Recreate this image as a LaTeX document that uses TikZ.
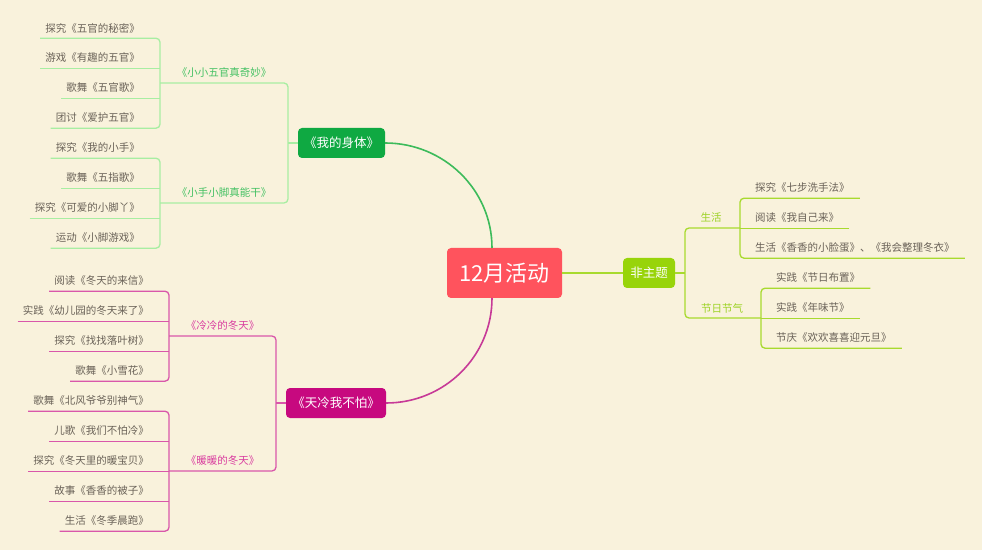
\documentclass[tikz,border=0pt]{standalone}
\usepackage{fontspec}
\setmainfont{Noto Sans CJK SC}
\definecolor{bg}{HTML}{F9F2DC}
\definecolor{leaftxt}{HTML}{6A6258}
\definecolor{cRed}{HTML}{FF535D}
\definecolor{cBody}{HTML}{0FA942}
\definecolor{cBodyLine}{HTML}{3DBB5B}
\definecolor{cBodyLeaf}{HTML}{A8EEA2}
\definecolor{cBodyTxt}{HTML}{44C163}
\definecolor{cCold}{HTML}{C7097F}
\definecolor{cColdLine}{HTML}{C73A97}
\definecolor{cColdLeaf}{HTML}{D957AA}
\definecolor{cColdTxt}{HTML}{D93C9F}
\definecolor{cNon}{HTML}{98D40A}
\definecolor{cNonLine}{HTML}{A8DA2E}
\definecolor{cNonTxt}{HTML}{9DD226}
\begin{document}
\begin{tikzpicture}[x=1bp,y=-1bp,
  every node/.style={font=\fontsize{10.5bp}{12bp}\selectfont},
  mainbox/.style={rounded corners=4bp, text=white, inner sep=0pt, font=\fontsize{12.5bp}{14bp}\selectfont},
  leafL/.style={text=leaftxt, inner xsep=5bp, inner ysep=0pt, minimum height=20bp, anchor=east},
  leafR/.style={text=leaftxt, inner xsep=10bp, inner ysep=0pt, minimum height=20bp, anchor=west},
  grp/.style={inner sep=0pt, minimum height=20bp},
  bl/.style={line width=1.3bp, rounded corners=4bp},
]
\fill[bg] (0,0) rectangle (982,550);
\useasboundingbox (0,0) rectangle (982,550);

% main nodes
\node[mainbox, fill=cRed, minimum width=115bp, minimum height=50bp, font=\fontsize{22bp}{24bp}\selectfont] (c) at (504.5,273) {12月活动};
\node[mainbox, fill=cBody, minimum width=87bp, minimum height=30bp] (body) at (341.5,143) {《我的身体》};
\node[mainbox, fill=cCold, minimum width=100bp, minimum height=30bp] (cold) at (336,403) {《天冷我不怕》};
\node[mainbox, fill=cNon, minimum width=52bp, minimum height=30bp] (non) at (649,273) {非主题};

% main connectors
\coordinate (ctop) at (492,248);
\coordinate (cbot) at (492,298);
\draw[cBodyLine, line width=1.6bp] (ctop) to[out=90,in=0] (body.east);
\draw[cColdLine, line width=1.6bp] (cbot) to[out=-90,in=0] (cold.east);
\draw[cNonLine, line width=1.6bp] (c.east) -- (non.west);

% ---------- body subtree ----------
\coordinate (kBody) at (288,143);
\coordinate (kA) at (160,83);
\coordinate (kB) at (160,203);
\node[grp, text=cBodyTxt] (gA) at (224,73) {《小小五官真奇妙》};
\node[grp, text=cBodyTxt] (gB) at (224,193) {《小手小脚真能干》};
\draw[cBodyLeaf, bl] (body.west) -- (kBody);
\draw[cBodyLeaf, bl] (kA) -- (kA -| kBody) -- (kB -| kBody) -- (kB);

\node[leafL] (a1) at (145,28) {探究《五官的秘密》};
\node[leafL] (a2) at (145,58) {游戏《有趣的五官》};
\node[leafL] (a3) at (145,88) {歌舞《五官歌》};
\node[leafL] (a4) at (145,118) {团讨《爱护五官》};
\draw[cBodyLeaf, bl] (a1.south west) -- (a1.south -| kA) -- (a4.south -| kA) -- (a4.south west);
\draw[cBodyLeaf, bl] (a2.south west) -- (a2.south -| kA);
\draw[cBodyLeaf, bl] (a3.south west) -- (a3.south -| kA);

\node[leafL] (b1) at (145,148) {探究《我的小手》};
\node[leafL] (b2) at (145,178) {歌舞《五指歌》};
\node[leafL] (b3) at (145,208) {探究《可爱的小脚丫》};
\node[leafL] (b4) at (145,238) {运动《小脚游戏》};
\draw[cBodyLeaf, bl] (b1.south west) -- (b1.south -| kB) -- (b4.south -| kB) -- (b4.south west);
\draw[cBodyLeaf, bl] (b2.south west) -- (b2.south -| kB);
\draw[cBodyLeaf, bl] (b3.south west) -- (b3.south -| kB);

% ---------- cold subtree ----------
\coordinate (kCold) at (276,403);
\coordinate (kC) at (169,336);
\coordinate (kD) at (169,471);
\node[grp, text=cColdTxt] (gC) at (222.5,326) {《冷冷的冬天》};
\node[grp, text=cColdTxt] (gD) at (222.5,461) {《暖暖的冬天》};
\draw[cColdLeaf, bl] (cold.west) -- (kCold);
\draw[cColdLeaf, bl] (kC) -- (kC -| kCold) -- (kD -| kCold) -- (kD);

\node[leafL] (d1) at (154,281) {阅读《冬天的来信》};
\node[leafL] (d2) at (154,311) {实践《幼儿园的冬天来了》};
\node[leafL] (d3) at (154,341) {探究《找找落叶树》};
\node[leafL] (d4) at (154,371) {歌舞《小雪花》};
\draw[cColdLeaf, bl] (d1.south west) -- (d1.south -| kC) -- (d4.south -| kC) -- (d4.south west);
\draw[cColdLeaf, bl] (d2.south west) -- (d2.south -| kC);
\draw[cColdLeaf, bl] (d3.south west) -- (d3.south -| kC);

\node[leafL] (e1) at (154,401) {歌舞《北风爷爷别神气》};
\node[leafL] (e2) at (154,431) {儿歌《我们不怕冷》};
\node[leafL] (e3) at (154,461) {探究《冬天里的暖宝贝》};
\node[leafL] (e4) at (154,491) {故事《香香的被子》};
\node[leafL] (e5) at (154,521) {生活《冬季晨跑》};
\draw[cColdLeaf, bl] (e1.south west) -- (e1.south -| kD) -- (e5.south -| kD) -- (e5.south west);
\draw[cColdLeaf, bl] (e2.south west) -- (e2.south -| kD);
\draw[cColdLeaf, bl] (e3.south west) -- (e3.south -| kD);
\draw[cColdLeaf, bl] (e4.south west) -- (e4.south -| kD);

% ---------- non-theme subtree ----------
\coordinate (kNon) at (685,273);
\coordinate (kE) at (740,228);
\coordinate (kF) at (761,318);
\node[grp, text=cNonTxt] (gE) at (711,218) {生活};
\node[grp, text=cNonTxt] (gF) at (722,308) {节日节气};
\draw[cNonLine, bl] (non.east) -- (kNon);
\draw[cNonLine, bl] (kE) -- (kE -| kNon) -- (kF -| kNon) -- (kF);

\node[leafR] (f1) at (745,188) {探究《七步洗手法》};
\node[leafR] (f2) at (745,218) {阅读《我自己来》};
\node[leafR] (f3) at (745,248) {生活《香香的小脸蛋》、《我会整理冬衣》};
\draw[cNonLine, bl] (f1.south east) -- (f1.south -| kE) -- (f3.south -| kE) -- (f3.south east);
\draw[cNonLine, bl] (f2.south east) -- (f2.south -| kE);

\node[leafR] (h1) at (766,278) {实践《节日布置》};
\node[leafR] (h2) at (766,308) {实践《年味节》};
\node[leafR] (h3) at (766,338) {节庆《欢欢喜喜迎元旦》};
\draw[cNonLine, bl] (h1.south east) -- (h1.south -| kF) -- (h3.south -| kF) -- (h3.south east);
\draw[cNonLine, bl] (h2.south east) -- (h2.south -| kF);
\end{tikzpicture}
\end{document}
